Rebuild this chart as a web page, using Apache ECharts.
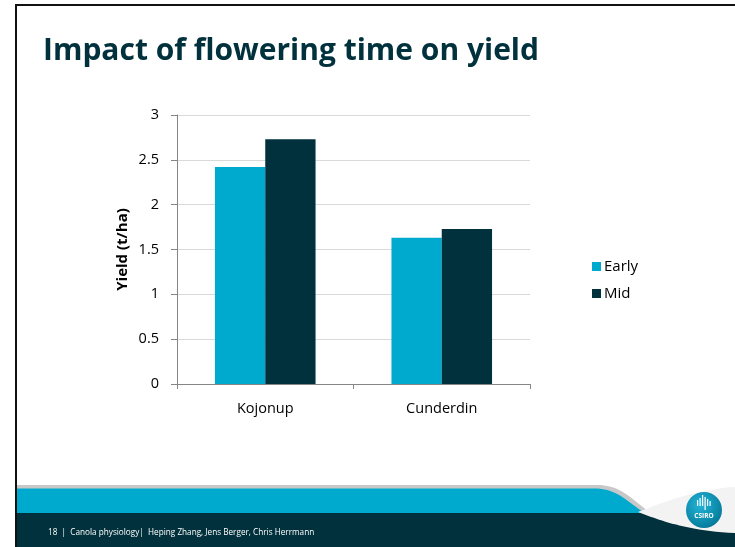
<!DOCTYPE html>
<html>
<head>
<meta charset="utf-8">
<script src="https://cdn.jsdelivr.net/npm/echarts@6/dist/echarts.min.js"></script>
<style>
html,body{margin:0;padding:0;background:#fff;}
#c{width:735px;height:547px;}
</style>
</head>
<body>
<div id="c"></div>
<script>
const categories = ['Kojonup', 'Cunderdin'];
const seriesNames = ['Early', 'Mid'];
const earlyValues = [2.42, 1.63];
const midValues = [2.73, 1.73];
const yMin = 0, yMax = 3, yStep = 0.5;

const FONT = '"Open Sans", "Noto Sans", sans-serif';
const chart = echarts.init(document.getElementById('c'), null, {renderer: 'canvas'});

// sample a cubic bezier into polygon points (decoration only)
function bez(p0, p1, p2, p3, n) {
  const pts = [];
  for (let i = 0; i <= n; i++) {
    const t = i / n, u = 1 - t;
    pts.push([
      u*u*u*p0[0] + 3*u*u*t*p1[0] + 3*u*t*t*p2[0] + t*t*t*p3[0],
      u*u*u*p0[1] + 3*u*u*t*p1[1] + 3*u*t*t*p2[1] + t*t*t*p3[1]
    ]);
  }
  return pts;
}

const greyPts = [[17,485]].concat(bez([597,485],[622,485],[632,500],[648,511],20)).concat([[17,511]]);
const bluePts = [[17,488.5]].concat(bez([595,488.5],[618,488.5],[628,503],[645,513],20)).concat([[17,513]]);
const swooshPts = bez([638,512],[668,500],[700,489],[735,487],20).concat(bez([735,533],[690,531],[664,522],[638,512],20));

const graphics = [
  {type: 'rect', shape: {x: 15, y: 4, width: 720, height: 2}, style: {fill: '#111'}, silent: true},
  {type: 'rect', shape: {x: 15, y: 4, width: 2, height: 543}, style: {fill: '#111'}, silent: true},
  {type: 'text', x: 43, y: 51, style: {text: 'Impact of flowering time on yield', font: 'bold 30px ' + FONT, fill: '#00313c', verticalAlign: 'middle'}, silent: true},
  {type: 'rect', shape: {x: 17, y: 512, width: 718, height: 35}, style: {fill: '#00313c'}, silent: true},
  {type: 'polygon', shape: {points: greyPts}, style: {fill: '#c8c8c8'}, silent: true},
  {type: 'polygon', shape: {points: bluePts}, style: {fill: '#00a9ce'}, silent: true},
  {type: 'polygon', shape: {points: swooshPts}, style: {fill: '#f3f3f3'}, silent: true},
  {type: 'circle', shape: {cx: 704, cy: 510, r: 18}, style: {fill: {type: 'radial', x: 0.4, y: 0.35, r: 0.8, colorStops: [{offset: 0, color: '#22b5d8'}, {offset: 1, color: '#006f8f'}]}}, silent: true},
  {type: 'text', x: 704, y: 516, style: {text: 'CSIRO', font: 'bold 6.5px ' + FONT, fill: '#fff', align: 'center', verticalAlign: 'middle'}, silent: true},
  {type: 'rect', shape: {x: 697, y: 500, width: 1.2, height: 6}, style: {fill: '#fff'}, silent: true},
  {type: 'rect', shape: {x: 699.5, y: 498, width: 1.2, height: 8}, style: {fill: '#fff'}, silent: true},
  {type: 'rect', shape: {x: 702, y: 495, width: 1.2, height: 11}, style: {fill: '#fff'}, silent: true},
  {type: 'rect', shape: {x: 704.5, y: 497, width: 1.2, height: 13}, style: {fill: '#fff'}, silent: true},
  {type: 'rect', shape: {x: 707, y: 499, width: 1.2, height: 7}, style: {fill: '#fff'}, silent: true},
  {type: 'rect', shape: {x: 709.5, y: 501, width: 1.2, height: 5}, style: {fill: '#fff'}, silent: true},
  {type: 'text', x: 48, y: 533, style: {text: '18  |  Canola physiology|  Heping Zhang, Jens Berger, Chris Herrmann', font: '8.2px ' + FONT, fill: '#ffffff', verticalAlign: 'middle'}, silent: true}
];

chart.setOption({
  animation: false,
  backgroundColor: '#fff',
  textStyle: {fontFamily: FONT},
  grid: {left: 177, right: 205, top: 115, bottom: 163, containLabel: false},
  legend: {
    orient: 'vertical', left: 587, top: 254,
    itemWidth: 9, itemHeight: 9, itemGap: 12,
    icon: 'rect',
    textStyle: {fontSize: 15, color: '#000', fontFamily: FONT, padding: [0, 0, 0, -2]},
    data: seriesNames
  },
  xAxis: {
    type: 'category', data: categories,
    axisLine: {lineStyle: {color: '#868686', width: 1}},
    axisTick: {show: true, length: 5, alignWithLabel: false, lineStyle: {color: '#868686'}},
    axisLabel: {fontSize: 14.5, color: '#000', margin: 17, fontFamily: FONT},
    splitLine: {show: false}
  },
  yAxis: {
    type: 'value', min: yMin, max: yMax, interval: yStep,
    name: 'Yield (t/ha)', nameLocation: 'middle', nameGap: 47, nameRotate: 90,
    nameTextStyle: {fontSize: 15, fontWeight: 'bold', color: '#000', fontFamily: FONT},
    axisLine: {show: true, lineStyle: {color: '#868686', width: 1}},
    axisTick: {show: true, length: 6, lineStyle: {color: '#868686'}},
    axisLabel: {fontSize: 14.5, color: '#000', margin: 18, fontFamily: FONT},
    splitLine: {show: true, lineStyle: {color: '#d9d9d9', width: 1}}
  },
  series: [
    {name: seriesNames[0], type: 'bar', data: earlyValues, barGap: '0%', barCategoryGap: '43%', itemStyle: {color: '#00a9ce'}},
    {name: seriesNames[1], type: 'bar', data: midValues, barGap: '0%', barCategoryGap: '43%', itemStyle: {color: '#00313c'}}
  ],
  graphic: graphics
});
</script>
</body>
</html>
